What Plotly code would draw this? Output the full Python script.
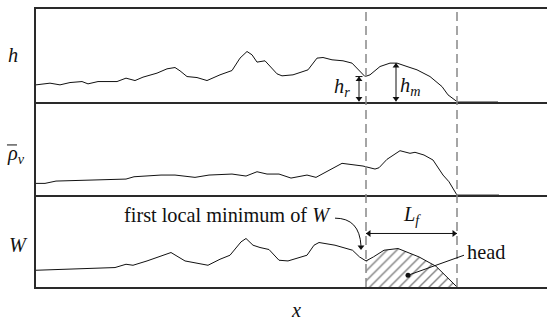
import plotly.graph_objects as go
from plotly.subplots import make_subplots

# ---- data (arbitrary units) ----
h_x = [0, 14, 24, 34, 46, 52, 62, 81, 90, 99, 107, 121, 131, 139, 144, 151, 161, 171, 184, 196,
       204, 211, 216, 221, 229, 234, 241, 246, 257, 267, 272, 281, 287, 296, 307, 316, 324, 329,
       334, 344, 354, 361, 371, 381, 394, 406, 412, 421, 462]
h_y = [16.7, 18.4, 16.7, 19, 20, 17.7, 20, 20, 23.4, 21, 24.4, 28.4, 32.7, 34, 30.7, 25, 24, 21,
       26.7, 31, 43.4, 50, 46.7, 39.4, 40.7, 35.7, 27.7, 25.7, 26.7, 30, 31.7, 43.4, 44, 41.7,
       40.7, 38.4, 30, 25, 26.7, 35, 38.4, 38.4, 35, 31.7, 25, 15, 6.7, 0, 0]

rho_x = [0, 9, 20, 51, 90, 98, 125, 139, 159, 173, 196, 210, 221, 231, 243, 255, 271, 280, 294,
         306, 327, 339, 343, 351, 364, 374, 379, 388, 397, 407, 413, 421, 463]
rho_y = [11.7, 11.7, 14, 15, 16, 18.3, 20, 20, 17.7, 20, 21, 19, 23.3, 21, 21, 17, 20, 17.7, 25,
         31.7, 29, 26, 27.3, 35.7, 44.3, 41.7, 42.7, 40, 35, 20, 13.3, 0, 0]

w_x = [0, 23, 51, 79, 90, 97, 111, 135, 149, 172, 184, 194, 205, 210, 217, 224, 233, 243, 252,
       271, 278, 283, 299, 316.5, 323.5, 330, 337.4, 348, 362, 383, 400, 411, 421]
w_y = [16.7, 17.7, 18.4, 19.4, 22.7, 21.7, 26, 34.4, 26, 21.7, 27.7, 31.7, 45, 48.4, 41.7, 39.4,
       37.4, 26.7, 26, 31.7, 41.7, 44.4, 41.7, 36.7, 30, 26, 30, 36.7, 38.4, 30, 20.7, 10, 0]

front_x = [330, 421]        # first local minimum of W, front position
h_r = 25                    # height at the first local minimum
h_m = 38.4                  # maximum head height
h_m_x = 360
h_r_x = 323
lf_y = 53.4                 # level of the L_f arrow
min_tip = (325, 37)         # tip of the curved arrow
head_dot = (372, 11.7)

FONT = "Liberation Serif, Times New Roman, serif"
BLACK = "#111111"
AXC = "#2a2a2a"

fig = make_subplots(rows=3, cols=1, shared_xaxes=True, vertical_spacing=0,
                    row_heights=[92.4, 93.3, 91.7])

line = dict(color=BLACK, width=1)
fig.add_trace(go.Scatter(x=h_x, y=h_y, mode="lines", line=line, hoverinfo="skip"), row=1, col=1)
fig.add_trace(go.Scatter(x=rho_x, y=rho_y, mode="lines", line=line, hoverinfo="skip"), row=2, col=1)

# hatched head region (subset of W from first local minimum onward)
hx = [x for x in w_x if x >= front_x[0]]
hy = [y for x, y in zip(w_x, w_y) if x >= front_x[0]]
fig.add_trace(go.Scatter(x=hx, y=hy, mode="lines", line=dict(width=0), fill="tozeroy",
                         fillcolor="rgba(0,0,0,0)",
                         fillpattern=dict(shape="/", fgcolor="#000000", bgcolor="rgba(0,0,0,0)",
                                          size=7, solidity=0.2),
                         hoverinfo="skip"), row=3, col=1)
fig.add_trace(go.Scatter(x=w_x, y=w_y, mode="lines", line=line, hoverinfo="skip"), row=3, col=1)
fig.add_trace(go.Scatter(x=[head_dot[0]], y=[head_dot[1]], mode="markers",
                         marker=dict(color=BLACK, size=5), hoverinfo="skip"), row=3, col=1)

# arrow shafts (vertical h_r, h_m) and their heads
fig.add_trace(go.Scatter(x=[h_r_x, h_r_x, None, h_m_x, h_m_x], y=[0, h_r, None, 0, h_m],
                         mode="lines", line=line, hoverinfo="skip"), row=1, col=1)
fig.add_trace(go.Scatter(x=[h_r_x, h_r_x, h_m_x, h_m_x], y=[h_r - 3, 3, h_m - 3, 3],
                         mode="markers", hoverinfo="skip",
                         marker=dict(symbol=["triangle-up", "triangle-down"] * 2, size=6,
                                     color=BLACK, line=dict(width=0))), row=1, col=1)
fig.add_trace(go.Scatter(x=[h_r_x - 3.5, h_r_x + 3.5], y=[h_r, h_r], mode="lines",
                         line=line, hoverinfo="skip"), row=1, col=1)
# L_f arrow
fig.add_trace(go.Scatter(x=front_x, y=[lf_y, lf_y], mode="lines", line=line,
                         hoverinfo="skip"), row=3, col=1)
fig.add_trace(go.Scatter(x=[front_x[0] + 3, front_x[1] - 3, min_tip[0]],
                         y=[lf_y, lf_y, min_tip[1] + 3], mode="markers", hoverinfo="skip",
                         marker=dict(symbol=["triangle-left", "triangle-right", "triangle-down"],
                                     size=6, color=BLACK, line=dict(width=0))), row=3, col=1)

axis_common = dict(showticklabels=False, showgrid=False, zeroline=False, ticks="",
                   showline=True, linecolor=AXC, linewidth=1.6)
for i, yr in zip([1, 2, 3], [92.4, 93.3, 91.7]):
    fig.update_xaxes(range=[0, 511], mirror=(i == 1), row=i, col=1, **axis_common)
    fig.update_yaxes(range=[0, yr], mirror=False, row=i, col=1, **axis_common)

shapes = []
for fx in front_x:
    shapes.append(dict(type="line", xref="x3", yref="paper", x0=fx, x1=fx, y0=0, y1=1,
                       line=dict(color="#888888", width=1.5, dash="9px,5px")))
# curved arrow to first local minimum
shapes.append(dict(type="path", xref="x3", yref="y3",
                   path="M 299,68.7 Q 323.5,68.7 %g,%g" % (min_tip[0], min_tip[1] + 4),
                   line=dict(color=BLACK, width=1)))
# leader line to head
shapes.append(dict(type="line", xref="x3", yref="y3", x0=428, y0=31.7,
                   x1=head_dot[0], y1=head_dot[1], line=dict(color=BLACK, width=1)))
# bar over rho
shapes.append(dict(type="line", xref="paper", yref="paper", x0=-0.0568, x1=-0.0372,
                   y0=0.511, y1=0.511, line=dict(color=BLACK, width=1)))

font = dict(family=FONT, size=20.3, color=BLACK)
ann = []
def text(t, x, y, xr, yr):
    ann.append(dict(text=t, x=x, y=y, xref=xr, yref=yr, showarrow=False, font=font,
                    xanchor="center", yanchor="middle"))

text("<i>h</i><sub><i>r</i></sub>", 305.5, 14.4, "x", "y")
text("<i>h</i><sub><i>m</i></sub>", 374, 14.7, "x", "y")
text("<i>L</i><sub><i>f</i></sub>", 376, 71.7, "x3", "y3")
text("first local minimum of <i>W</i>", 191, 71.7, "x3", "y3")
text("head", 450, 34.7, "x3", "y3")
text("<i>h</i>", -0.045, 0.835, "paper", "paper")
text("<i>ρ</i><sub><i>ν</i></sub>", -0.040, 0.475, "paper", "paper")
text("<i>W</i>", -0.035, 0.150, "paper", "paper")
text("<i>x</i>", 0.509, -0.084, "paper", "paper")

fig.update_layout(width=547, height=320, margin=dict(l=36, r=0, t=9, b=33),
                  plot_bgcolor="white", paper_bgcolor="white", showlegend=False,
                  shapes=shapes, annotations=ann, font=dict(family=FONT, color=BLACK))

fig.write_html("out.html", config={"displayModeBar": False},
               post_script="document.body.style.margin='0';document.body.style.overflow='hidden';")
